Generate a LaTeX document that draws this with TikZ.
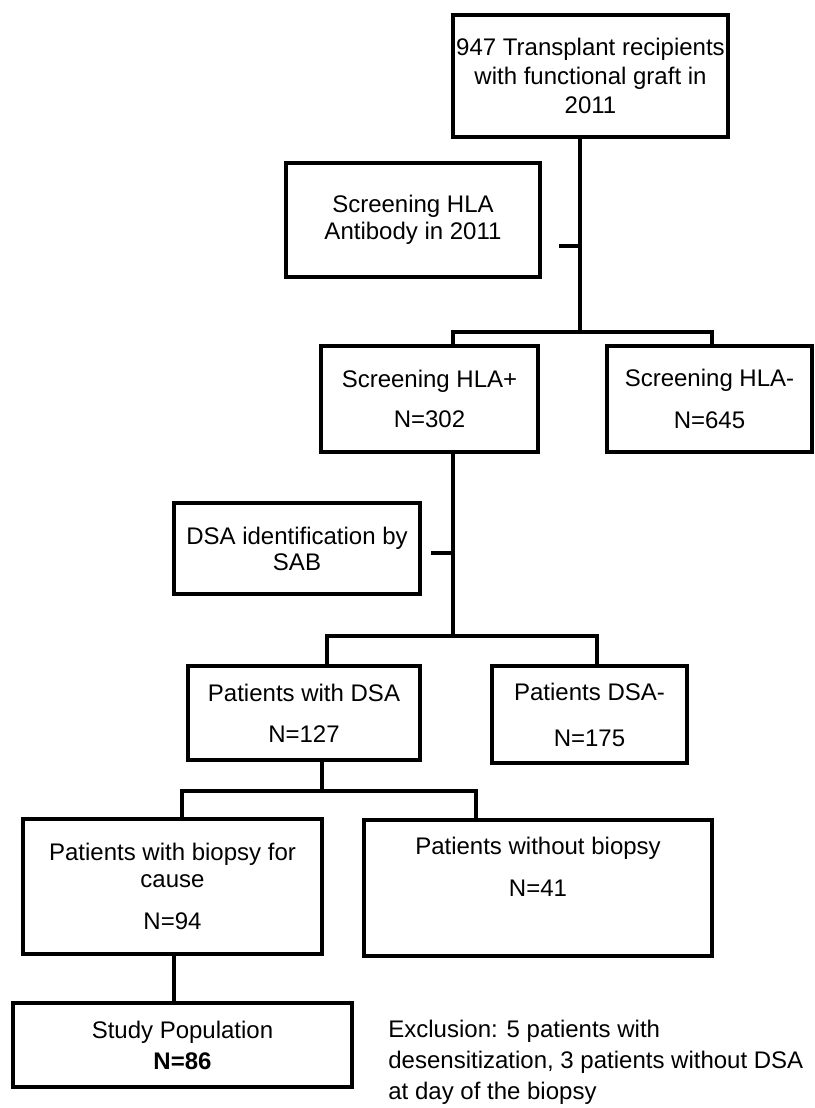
\documentclass[tikz,border=0pt]{standalone}
\usepackage{fontspec}
\setmainfont{Liberation Sans}

\begin{document}
\begin{tikzpicture}[x = 0.5pt, y = -0.5pt, box/.style = {draw, line width = 1.8pt, inner sep = 0pt, align = center, font = \fontsize{12}{13.5}\selectfont}, link/.style = {line width = 1.7pt}]

	% Definition
	
	\def\U{0.5pt};
	
	% Frame
	
	\useasboundingbox (0, 0) rectangle (814, 1108);
	
	% Boxes
	
	\node [box, minimum width = 275 * \U, minimum height = 122 * \U] (recip) at (590.5, 76) {947 Transplant recipients\\[1pt] with functional graft in\\[1pt] 2011};
	\node [box, minimum width = 254 * \U, minimum height = 114 * \U] (screen) at (413, 220) {Screening HLA\\ Antibody in 2011};
	\node [box, minimum width = 217 * \U, minimum height = 106 * \U] (hlapos) at (429.5, 399) {Screening HLA+\\[6.5pt] N=302};
	\node [box, minimum width = 205 * \U, minimum height = 106 * \U] (hlaneg) at (709.5, 399) {Screening HLA-\\[7.5pt] N=645};
	\node [box, minimum width = 246 * \U, minimum height = 91 * \U] (sab) at (297, 548.5) {DSA identification by\\[-0.5pt] SAB};
	\node [box, minimum width = 232 * \U, minimum height = 94 * \U] (dsapos) at (304, 713) {Patients with DSA\\[7pt] N=127};
	\node [box, minimum width = 195 * \U, minimum height = 97 * \U] (dsaneg) at (589.5, 714.5) {Patients DSA-\\[9.5pt] N=175};
	\node [box, minimum width = 299 * \U, minimum height = 135 * \U] (biopsy) at (172.5, 886.5) {Patients with biopsy for\\ cause\\[7.5pt] N=94};
	\node [box, minimum width = 348 * \U, minimum height = 136 * \U] (nobiopsy) at (538, 888) {Patients without biopsy\\[7.5pt] N=41\\[7.5pt] ~};
	\node [box, minimum width = 339 * \U, minimum height = 84 * \U] (study) at (182.5, 1045) {Study Population\\[2pt] \textbf{N=86}};
	
	% Note
	
	\node [anchor = west, align = left, inner sep = 0pt, font = \fontsize{12}{13.5}\selectfont] (excl) at (388, 1062) {Exclusion: 5 patients with\\[2pt] desensitization, 3 patients without DSA\\[2pt] at day of the biopsy};
	
	% Junctions
	
	\coordinate (j1) at (580, 332);
	\coordinate (t1) at (559, 246);
	\coordinate (b1l) at (453, 332);
	\coordinate (b1r) at (712, 332);
	\coordinate (j2) at (453, 636);
	\coordinate (t2) at (431, 553);
	\coordinate (b2l) at (327, 636);
	\coordinate (b2r) at (597, 636);
	\coordinate (j3) at (322, 791);
	\coordinate (b3l) at (182, 791);
	\coordinate (b3r) at (476, 791);
	\coordinate (j4) at (174, 980);
	
	% Connectors
	
	\draw [link] (recip.south -| j1) -- (j1);
	\draw [link] (t1) -- (t1 -| j1);
	\draw [link] (hlapos.north -| b1l) -- (b1l) -- (b1r) -- (hlaneg.north -| b1r);
	\draw [link] (hlapos.south -| j2) -- (j2);
	\draw [link] (t2) -- (t2 -| j2);
	\draw [link] (dsapos.north -| b2l) -- (b2l) -- (b2r) -- (dsaneg.north -| b2r);
	\draw [link] (dsapos.south -| j3) -- (j3);
	\draw [link] (biopsy.north -| b3l) -- (b3l) -- (b3r) -- (nobiopsy.north -| b3r);
	\draw [link] (biopsy.south -| j4) -- (study.north -| j4);

\end{tikzpicture}
\end{document}
